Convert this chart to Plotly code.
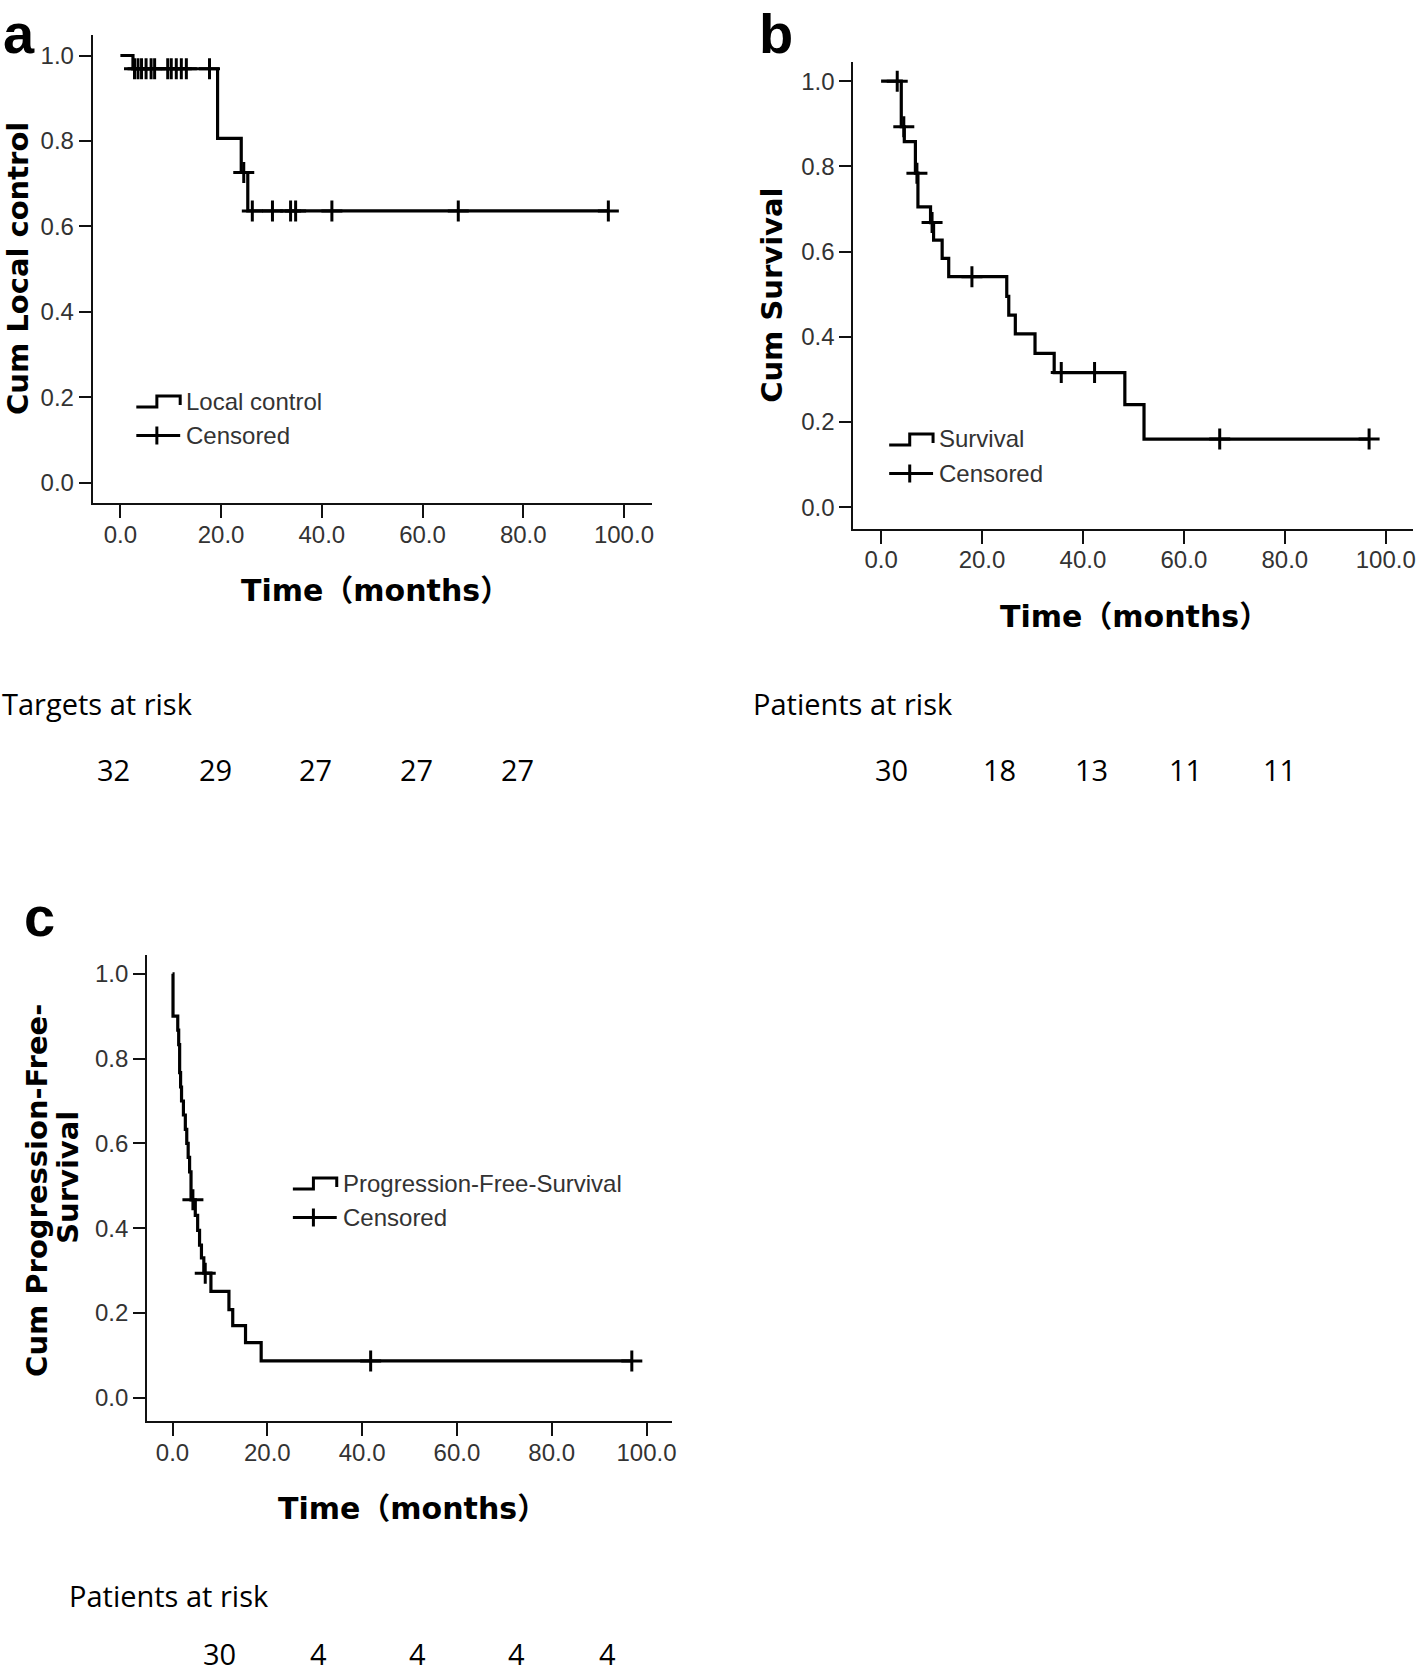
import plotly.graph_objects as go

W, H = 1417, 1674

# ---------------- data ----------------
# Panel a: local control (Kaplan-Meier step values)
lc_event_t = [0, 2.5, 19.3, 24.0, 25.3]
lc_event_s = [1.0, 0.969, 0.806, 0.726, 0.636]
lc_censor_t = [2.8, 3.5, 4.2, 5.1, 6.1, 6.8, 9.4, 10.1, 11.1, 12.1, 13.1, 17.7,
               24.5, 26.2, 30.2, 33.8, 34.8, 42.0, 67.1, 96.9]

# Panel b: overall survival
os_event_t = [0, 4.0, 4.6, 6.8, 7.3, 9.8, 10.4, 12.1, 13.4, 24.9, 25.3, 26.6,
              30.5, 34.3, 48.3, 52.1]
os_event_s = [1.0, 0.893, 0.858, 0.784, 0.705, 0.668, 0.627, 0.584, 0.541, 0.495,
              0.451, 0.407, 0.361, 0.316, 0.241, 0.160]
os_censor_t = [3.2, 4.5, 7.1, 10.1, 18.0, 35.7, 42.3, 67.1, 96.7]

# Panel c: progression-free survival
pfs_event_t = [0, 0.1, 1.1, 1.3, 1.5, 1.7, 1.9, 2.3, 2.7, 3.0, 3.3, 3.6, 3.9, 4.8,
               5.3, 5.7, 6.1, 6.6, 8.1, 11.9, 12.7, 15.4, 18.7]
pfs_event_s = [1.0, 0.9, 0.867, 0.833, 0.767, 0.733, 0.7, 0.667, 0.633, 0.6, 0.567,
               0.533, 0.467, 0.43, 0.395, 0.36, 0.33, 0.294, 0.251, 0.208, 0.17,
               0.13, 0.087]
pfs_censor_t = [4.3, 6.9, 41.8, 96.9]

# At-risk tables
risk_a = [32, 29, 27, 27, 27]
risk_b = [30, 18, 13, 11, 11]
risk_c = [30, 4, 4, 4, 4]

x_tickvals = [0, 20, 40, 60, 80, 100]
y_tickvals = [0.0, 0.2, 0.4, 0.6, 0.8, 1.0]

# ---------------- helpers ----------------
def px(x):
    return x / W


def py(y):
    return 1 - y / H


def step_at(t, ts, ss):
    val = ss[0]
    for ti, si in zip(ts, ss):
        if ti <= t:
            val = si
    return val


fig = go.Figure()


def add_km(ts, ss, cens, xa, ya):
    end = max(list(cens) + list(ts))
    fig.add_trace(go.Scatter(
        x=list(ts) + [end], y=list(ss) + [ss[-1]], mode="lines",
        line=dict(shape="hv", color="black", width=3.2),
        xaxis=xa, yaxis=ya, showlegend=False, hoverinfo="skip"))
    fig.add_trace(go.Scatter(
        x=cens, y=[step_at(c, ts, ss) for c in cens], mode="markers",
        marker=dict(symbol="cross-thin", size=15, color="black",
                    line=dict(width=3, color="black")),
        xaxis=xa, yaxis=ya, showlegend=False, hoverinfo="skip"))


add_km(lc_event_t, lc_event_s, lc_censor_t, "x", "y")
add_km(os_event_t, os_event_s, os_censor_t, "x2", "y2")
add_km(pfs_event_t, pfs_event_s, pfs_censor_t, "x3", "y3")

TICKFONT = dict(family="Liberation Sans, Arial, sans-serif", size=24, color="#333333")


def xcfg(dom, rng, anchor):
    return dict(domain=dom, range=rng, anchor=anchor, showline=True, linecolor="#111111",
                linewidth=2, ticks="outside", ticklen=13, tickwidth=2, tickcolor="#111111",
                showgrid=False, zeroline=False, tickvals=x_tickvals, tickformat=".1f",
                tickfont=TICKFONT, ticklabelstandoff=-4, fixedrange=True)


def ycfg(dom, rng, anchor):
    return dict(domain=dom, range=rng, anchor=anchor, showline=True, linecolor="#111111",
                linewidth=2, ticks="outside", ticklen=12, tickwidth=2, tickcolor="#111111",
                showgrid=False, zeroline=False, tickvals=y_tickvals, tickformat=".1f",
                tickfont=TICKFONT, ticklabelstandoff=0, fixedrange=True)


# panel geometry (pixels of the 1417x1674 page)
fig.update_layout(
    width=W, height=H, margin=dict(l=0, r=0, t=0, b=0),
    paper_bgcolor="white", plot_bgcolor="white", showlegend=False,
    xaxis=xcfg([px(93), px(654)], [-5.49, 105.6], "y"),
    yaxis=ycfg([py(503), py(35)], [-0.0478, 1.048], "x"),
    xaxis2=xcfg([px(855.8), 1.0], [-5.49, 105.4], "y2"),
    yaxis2=ycfg([py(528.6), py(62)], [-0.0502, 1.045], "x2"),
    xaxis3=xcfg([px(147.5), px(674)], [-5.37, 105.4], "y3"),
    yaxis3=ycfg([py(1420.7), py(955)], [-0.054, 1.0443], "x3"),
)

ann = []
shapes = []

LETTER = dict(family="Liberation Sans, Arial, sans-serif", size=56, color="black", weight="bold")
TITLE = dict(family="DejaVu Sans, Noto Sans CJK SC, sans-serif", size=30, color="black", weight="bold")
YTITLE = dict(family="DejaVu Sans, Noto Sans CJK SC, sans-serif", size=29, color="black", weight="bold")
LEG = dict(family="Liberation Sans, Arial, sans-serif", size=24, color="#333333")
RISK = dict(family="Open Sans, sans-serif", size=29, color="black")


def text(x, y, s, font, xanchor="center", yanchor="middle", angle=0):
    ann.append(dict(x=px(x), y=py(y), xref="paper", yref="paper", text=s, showarrow=False,
                    font=font, xanchor=xanchor, yanchor=yanchor, textangle=angle))


# panel letters
text(1, 0, "a", LETTER, xanchor="left", yanchor="top")
text(759, 0, "b", LETTER, xanchor="left", yanchor="top")
text(22, 883, "c", LETTER, xanchor="left", yanchor="top")

# axis titles
x_title = "Time（months）"
text(377, 590, x_title, TITLE)
text(1138, 616, x_title, TITLE)
text(413.5, 1508, x_title, TITLE)
text(18, 268, "Cum Local control", YTITLE, angle=-90)
text(774, 295, "Cum Survival", YTITLE, angle=-90)
text(37, 1190, "Cum Progression-Free-", YTITLE, angle=-90)
text(68, 1177, "Survival", YTITLE, angle=-90)


# legends
def legend(dx, dy, label):
    x0, x1, x2 = 136.7 + dx, 157.3 + dx, 180.7 + dx
    yb, yt = 407 + dy, 396 + dy
    path = (f"M{px(x0)},{py(yb)} L{px(x1)},{py(yb)} L{px(x1)},{py(yt)} "
            f"L{px(x2)},{py(yt)} L{px(x2)},{py(yt + 9)}")
    shapes.append(dict(type="path", path=path, xref="paper", yref="paper",
                       line=dict(color="black", width=3)))
    yc = 435.5 + dy
    shapes.append(dict(type="line", x0=px(x0), x1=px(x2), y0=py(yc), y1=py(yc),
                       xref="paper", yref="paper", line=dict(color="black", width=3)))
    shapes.append(dict(type="line", x0=px(x1), x1=px(x1), y0=py(yc - 9), y1=py(yc + 9),
                       xref="paper", yref="paper", line=dict(color="black", width=3)))
    text(x2 + 4, 401 + dy, label, LEG, xanchor="left")
    text(x2 + 4, 435.5 + dy, "Censored", LEG, xanchor="left")


legend(0, 0, "Local control")
legend(755, 38, "Survival")
legend(157, 782, "Progression-Free-Survival")

# at-risk tables
text(0, 703, "Targets at risk", RISK, xanchor="left")
for xx, v in zip([114, 216, 316, 417.5, 519], risk_a):
    text(xx, 769, str(v), RISK)
text(753, 703, "Patients at risk", RISK, xanchor="left")
for xx, v in zip([894, 1002, 1095, 1189, 1283], risk_b):
    text(xx, 769, str(v), RISK)
text(67, 1595, "Patients at risk", RISK, xanchor="left")
for xx, v in zip([220, 319, 418.6, 518, 609.7], risk_c):
    text(xx, 1653, str(v), RISK)

fig.update_layout(annotations=ann, shapes=shapes)
fig.write_html(
    "out.html",
    config={"displayModeBar": False},
    post_script="document.body.style.margin='0';document.body.style.padding='0';"
                "document.body.style.overflow='hidden';",
)
